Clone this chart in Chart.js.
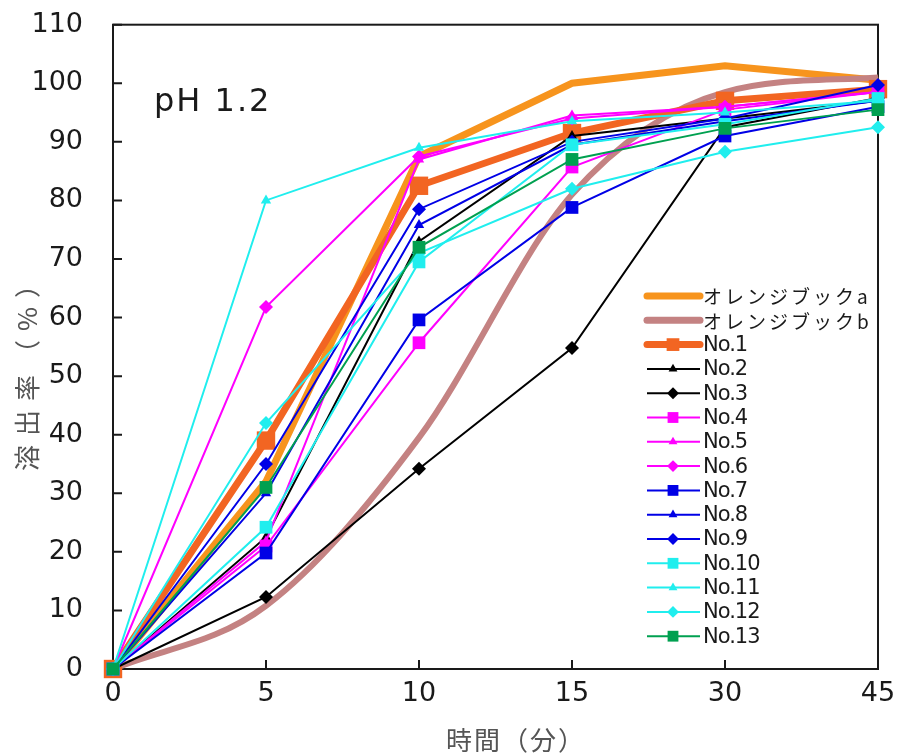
<!DOCTYPE html>
<html>
<head>
<meta charset="utf-8">
<script src="https://cdn.jsdelivr.net/npm/chart.js@4.4.0/dist/chart.umd.min.js"></script>
<style>
  html, body { margin: 0; padding: 0; background: #fff; }
  #wrap { width: 898px; height: 756px; }
</style>
</head>
<body>
<div id="wrap"><canvas id="myChart" width="898" height="756"></canvas></div>
<script>
// time points (min)
const timeLabels = ['0', '5', '10', '15', '30', '45'];

// dissolution (%)
const orangeA = [0, 32, 87.5, 100, 103, 100.5];
const orangeB = [0, 10.8, 39.5, 81, 98.5, 101];
const no1  = [0, 39, 82.5, 91.5, 97, 99];
const no2  = [0, 22.5, 73, 91, 94, 97];
const no3  = [0, 12.3, 34.2, 54.8, 92.5, 97.5];
const no4  = [0, 21, 55.7, 85.7, 95.5, 98.5];
const no5  = [0, 21.8, 87, 94.5, 96, 98.5];
const no6  = [0, 61.8, 87.5, 94, 96, 98.5];
const no7  = [0, 19.8, 59.6, 78.8, 91, 96];
const no8  = [0, 30, 75.8, 89.5, 93.5, 97];
const no9  = [0, 35, 78.5, 90, 94, 99.7];
const no10 = [0, 24.2, 69.5, 89.5, 93, 97.4];
const no11 = [0, 80, 89, 93.5, 95, 97];
const no12 = [0, 42, 71, 82, 88.3, 92.5];
const no13 = [0, 31, 72, 87, 92.3, 95.5];

const seriesNames = ['オレンジブックa', 'オレンジブックb', 'No.1', 'No.2', 'No.3', 'No.4', 'No.5',
  'No.6', 'No.7', 'No.8', 'No.9', 'No.10', 'No.11', 'No.12', 'No.13'];
const seriesData = [orangeA, orangeB, no1, no2, no3, no4, no5, no6, no7, no8, no9, no10, no11, no12, no13];

const BLACK = '#000000', MAGENTA = '#ff00ff', BLUE = '#0000e6', CYAN = '#20eeee', GREEN = '#00a050';
const styles = [
  { color: '#f7941d', width: 7, point: false, r: 0 },
  { color: '#c48282', width: 6, point: false, r: 0, smooth: true },
  { color: '#f26522', width: 7, point: 'rect', r: 13 },
  { color: BLACK, width: 2, point: 'triangle', r: 6 },
  { color: BLACK, width: 2, point: 'rectRot', r: 7 },
  { color: MAGENTA, width: 2, point: 'rect', r: 9 },
  { color: MAGENTA, width: 2, point: 'triangle', r: 6 },
  { color: MAGENTA, width: 2, point: 'rectRot', r: 7 },
  { color: BLUE, width: 2, point: 'rect', r: 9 },
  { color: BLUE, width: 2, point: 'triangle', r: 6 },
  { color: BLUE, width: 2, point: 'rectRot', r: 7 },
  { color: CYAN, width: 2, point: 'rect', r: 9 },
  { color: CYAN, width: 2, point: 'triangle', r: 6 },
  { color: CYAN, width: 2, point: 'rectRot', r: 7 },
  { color: GREEN, width: 2, point: 'rect', r: 9 },
];

const datasets = seriesData.map((d, i) => {
  const s = styles[i];
  return {
    label: seriesNames[i],
    data: d,
    borderColor: s.color,
    backgroundColor: s.color,
    borderWidth: s.width,
    pointStyle: s.point,
    pointRadius: s.r,
    pointBorderWidth: 0,
    pointHoverRadius: s.r,
    cubicInterpolationMode: s.smooth ? 'monotone' : 'default',
    tension: 0,
    clip: false,
    order: seriesData.length - i, // later series on top, like the original
  };
});

const NUM_FONT = 'DejaVu Sans, Liberation Sans, Arial, sans-serif';
const JP_FONT = '"Noto Sans CJK JP", "Noto Sans", sans-serif';

const decor = {
  id: 'decor',
  beforeDatasetsDraw(chart) {
    const { ctx, chartArea: a, scales: { x, y } } = chart;
    ctx.save();
    ctx.strokeStyle = '#1a1a1a';
    ctx.lineWidth = 2;
    ctx.strokeRect(a.left, a.top, a.right - a.left, a.bottom - a.top);
    ctx.beginPath();
    y.ticks.forEach((t, i) => {
      const py = y.getPixelForTick(i);
      ctx.moveTo(a.left, py); ctx.lineTo(a.left + 9, py);
    });
    x.ticks.forEach((t, i) => {
      const px = x.getPixelForTick(i);
      ctx.moveTo(px, a.bottom); ctx.lineTo(px, a.bottom - 9);
    });
    ctx.stroke();

    // panel label
    ctx.fillStyle = '#1a1a1a';
    ctx.font = '32px ' + NUM_FONT;
    ctx.textBaseline = 'alphabetic';
    ctx.letterSpacing = '2px';
    ctx.fillText('pH 1.2', 154, 111);

    // axis titles
    ctx.fillStyle = '#555';
    ctx.font = '26px ' + JP_FONT;
    ctx.letterSpacing = '2px';
    ctx.textAlign = 'center';
    ctx.textBaseline = 'middle';
    ctx.fillText('時間（分）', 516, 740);
    ctx.letterSpacing = '9px';
    ctx.translate(27, 367);
    ctx.rotate(-Math.PI / 2);
    ctx.fillText('溶出率（%）', 0, 0);
    ctx.letterSpacing = '0px';
    ctx.restore();
  },
  afterDatasetsDraw(chart) {
    const { ctx } = chart;
    ctx.save();
    chart.data.datasets.forEach((ds, i) => {
      const yy = 296 + i * 24.3;
      ctx.strokeStyle = ds.borderColor;
      ctx.lineWidth = ds.borderWidth >= 6 ? 7 : 2;
      ctx.lineCap = ds.borderWidth >= 6 ? 'round' : 'butt';
      ctx.beginPath();
      ctx.moveTo(647, yy);
      ctx.lineTo(700, yy);
      ctx.stroke();
      if (ds.pointStyle) {
        ctx.fillStyle = ds.backgroundColor;
        ctx.strokeStyle = ds.borderColor;
        ctx.lineWidth = 0;
        Chart.helpers.drawPoint(ctx, {
          pointStyle: ds.pointStyle, rotation: 0,
          radius: ds.pointRadius > 10 ? 9 : ds.pointRadius * 0.85, borderWidth: 0
        }, 673, yy);
      }
      ctx.fillStyle = '#1a1a1a';
      ctx.textBaseline = 'middle';
      ctx.textAlign = 'left';
      if (i < 2) {
        ctx.font = '19px ' + JP_FONT;
        ctx.letterSpacing = '3px';
      } else {
        ctx.font = '21px ' + NUM_FONT;
        ctx.letterSpacing = '-1px';
      }
      ctx.fillText(ds.label, 703, yy + 1);
      ctx.letterSpacing = '0px';
    });
    ctx.restore();
  }
};

new Chart(document.getElementById('myChart').getContext('2d'), {
  type: 'line',
  data: { labels: timeLabels, datasets: datasets },
  options: {
    responsive: false,
    animation: false,
    layout: { padding: { top: 0, right: 20, left: 0, bottom: 0 } },
    plugins: { legend: { display: false }, tooltip: { enabled: false } },
    scales: {
      x: {
        type: 'category',
        offset: false,
        grid: { display: false },
        border: { display: false },
        ticks: { color: '#1a1a1a', font: { size: 27, family: NUM_FONT }, padding: 1, maxRotation: 0 },
        afterFit: (s) => { s.height = 756 - 669; },
      },
      y: {
        min: 0, max: 110,
        grid: { display: false },
        border: { display: false },
        ticks: { stepSize: 10, color: '#1a1a1a', font: { size: 27, family: NUM_FONT, lineHeight: 0.2 }, padding: 22 },
        afterFit: (s) => { s.width = 113; },
      }
    }
  },
  plugins: [decor]
});
</script>
</body>
</html>
